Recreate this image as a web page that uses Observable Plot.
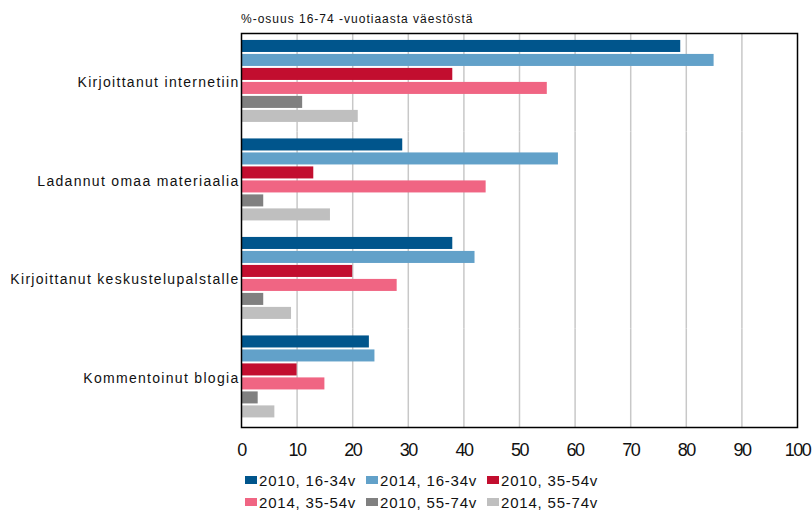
<!DOCTYPE html>
<html>
<head>
<meta charset="utf-8">
<script src="https://cdn.jsdelivr.net/npm/d3@7"></script>
<script src="https://cdn.jsdelivr.net/npm/@observablehq/plot@0.6"></script>
<style>
  html, body { margin: 0; padding: 0; background: #fff; }
  body { width: 812px; height: 511px; overflow: hidden; position: relative; font-family: "Liberation Sans", Arial, sans-serif; color: #111; }
  #sub { position: absolute; left: 241px; top: 12px; font-size: 12px; letter-spacing: 1px; line-height: 14px; color: #111; }
  #chart { position: absolute; left: 0; top: 30px; }
  #chart svg { display: block; }
  #legend { position: absolute; left: 245px; top: 469px; display: grid; grid-template-columns: 121px 121px 121px; grid-auto-rows: 22px; }
  .item { display: flex; align-items: center; font-size: 15px; line-height: 17px; letter-spacing: 0.8px; color: #111; white-space: nowrap; }
  .sw { display: inline-block; width: 12px; height: 8px; margin-right: 2px; }
  svg g[aria-label="x-axis tick label"] { font-family: "Liberation Sans Narrow", "Liberation Sans", sans-serif; font-size: 18px; letter-spacing: -1.5px; fill: #111; }
  svg g[aria-label="fy-axis tick label"] { font-family: "Liberation Sans", Arial, sans-serif; font-size: 14px; letter-spacing: 1.3px; fill: #111; }
</style>
</head>
<body>
<div id="sub">%-osuus 16-74 -vuotiaasta väestöstä</div>
<div id="chart"></div>
<div id="legend"></div>
<script>
const categories = [
  "Kirjoittanut internetiin",
  "Ladannut omaa materiaalia",
  "Kirjoittanut keskustelupalstalle",
  "Kommentoinut blogia"
];
const series = ["2010, 16-34v", "2014, 16-34v", "2010, 35-54v", "2014, 35-54v", "2010, 55-74v", "2014, 55-74v"];
const colors = ["#00558c", "#62a1c9", "#c20e2f", "#f06583", "#808080", "#bfbfbf"];
const v2010_16_34 = [79, 29, 38, 23];
const v2014_16_34 = [85, 57, 42, 24];
const v2010_35_54 = [38, 13, 20, 10];
const v2014_35_54 = [55, 44, 28, 15];
const v2010_55_74 = [11, 4, 4, 3];
const v2014_55_74 = [21, 16, 9, 6];
const xTicks = [0, 10, 20, 30, 40, 50, 60, 70, 80, 90, 100];

const seriesValues = [v2010_16_34, v2014_16_34, v2010_35_54, v2014_35_54, v2010_55_74, v2014_55_74];
const data = categories.flatMap((c, i) => series.map((s, j) => ({category: c, series: s, value: seriesValues[j][i]})));

const chart = Plot.plot({
  width: 812,
  height: 440,
  marginLeft: 241,
  marginRight: 15,
  marginTop: 3,
  marginBottom: 43,
  style: {background: "transparent", color: "#111"},
  x: {domain: [0, 100], ticks: xTicks, tickSize: 0, tickPadding: 16, label: null},
  y: {domain: series, axis: null, paddingInner: 0.14, paddingOuter: 0.59, align: 0.42, round: false},
  fy: {domain: categories, padding: 0, label: null, axis: "left", tickSize: 0, tickPadding: 2, round: false},
  color: {domain: series, range: colors},
  marks: [
    Plot.gridX(xTicks.slice(1, -1), {stroke: "#c8c8c8", strokeOpacity: 1, strokeWidth: 1.5}),
    Plot.barX(data, {x: "value", y: "series", fy: "category", fill: "series"}),
    Plot.frame({facet: "super", stroke: "#000", strokeWidth: 1.5})
  ]
});
document.getElementById("chart").appendChild(chart);

const legend = d3.select("#legend");
series.forEach((s, i) => {
  const it = legend.append("div").attr("class", "item");
  it.append("span").attr("class", "sw").style("background", colors[i]);
  it.append("span").text(s);
});
</script>
</body>
</html>
